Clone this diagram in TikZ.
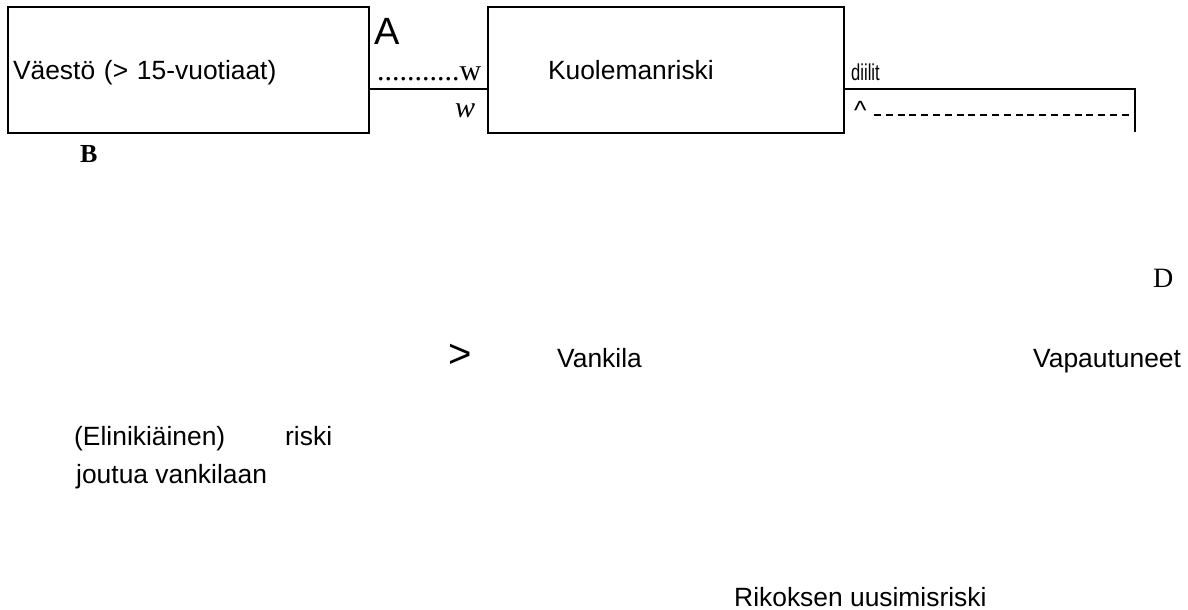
\documentclass[tikz,border=0pt]{standalone}
\usepackage{fontspec}
\usepackage{graphicx}
\setmainfont{Liberation Serif}
\setsansfont{Liberation Sans}
\begin{document}
\begin{tikzpicture}[x=1pt,y=-1pt,
  box/.style={draw, line width=2pt, rectangle, inner ysep=0pt, align=left,
    text height=19pt, text depth=0pt, minimum height=126pt,
    font=\sffamily\fontsize{26.4}{30}\selectfont},
  lbl/.style={inner sep=0pt, anchor=base west},
  sanslbl/.style={lbl, font=\sffamily\fontsize{26.4}{30}\selectfont},
  conn/.style={line width=2pt}]
\useasboundingbox (0,0) rectangle (1188,610);

% boxes
\node[box, minimum width=361pt, text width=351pt, inner xsep=5pt] (pop) at (188.5,70) {Väestö (> 15-vuotiaat)};
\node[box, minimum width=356pt, text width=236pt, inner xsep=60pt] (risk) at (666,70) {Kuolemanriski};

% connectors
\coordinate (midY) at (0,89);
\coordinate (rc) at (1135,89);
\coordinate (rb) at (1135,132);
\coordinate (ds) at (874,115);
\draw[conn] (pop.east |- midY) -- (risk.west |- midY);
\draw[conn] (risk.east |- midY) -- (rc) -- (rb);
\draw[line width=2pt, dash pattern=on 7pt off 4.8pt] (ds) -- (ds -| rc);

% labels
\node[lbl, font=\sffamily\fontsize{38}{40}\selectfont] (A) at (374,45) {A};
\node[lbl, font=\rmfamily\fontsize{30}{32}\selectfont] (dots) at (377,81) {...........w};
\node[lbl, font=\rmfamily\itshape\fontsize{30}{32}\selectfont] (wit) at (455,117) {w};
\node[lbl, font=\rmfamily\bfseries\fontsize{26}{28}\selectfont] (B) at (80,162) {B};
\node[lbl, font=\sffamily\fontsize{23}{24}\selectfont] (dl) at (851,81) {\scalebox{0.72}[1]{diilit}};
\node[sanslbl] (caret) at (854,119) {\textasciicircum};
\node[lbl, font=\rmfamily\fontsize{28}{30}\selectfont] (D) at (1153,287) {D};
\node[lbl, font=\sffamily\fontsize{40}{42}\selectfont] (gt) at (448,367) {>};
\node[sanslbl] (prison) at (557,367) {Vankila};
\node[sanslbl] (released) at (1033,367) {Vapautuneet};
\node[sanslbl] (life1) at (74,445) {(Elinikiäinen)};
\node[sanslbl] (life2) at (285,445) {riski};
\node[sanslbl] (life3) at (76,483) {joutua vankilaan};
\node[sanslbl] (recid) at (734,606) {Rikoksen uusimisriski};
\end{tikzpicture}
\end{document}
